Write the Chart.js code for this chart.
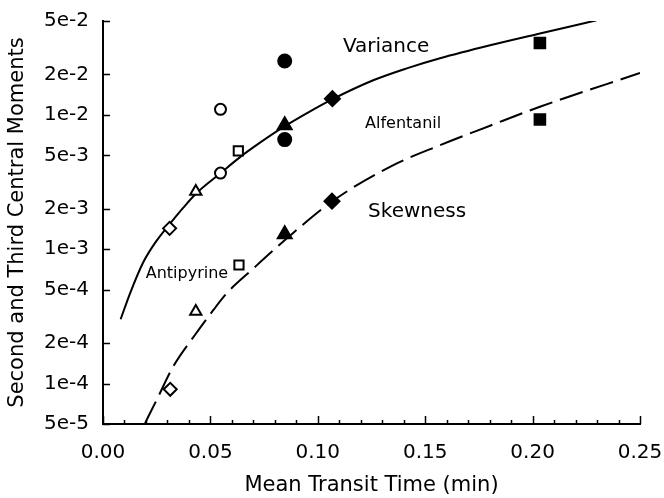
<!DOCTYPE html>
<html lang="en">
<head>
<meta charset="UTF-8">
<title>Second and Third Central Moments</title>
<script src="https://cdn.jsdelivr.net/npm/chart.js"></script>
<style>
  html, body { margin: 0; padding: 0; background: #fff; }
</style>
</head>
<body>
<canvas id="myChart" width="664" height="498"></canvas>
<script>
// axes
const xTicks = [0, 0.05, 0.10, 0.15, 0.20, 0.25];
const xTickLabels = ['0.00', '0.05', '0.10', '0.15', '0.20', '0.25'];
const yTicks = [5e-5, 1e-4, 2e-4, 5e-4, 1e-3, 2e-3, 5e-3, 1e-2, 2e-2, 5e-2];
const yTickLabels = ['5e-5', '1e-4', '2e-4', '5e-4', '1e-3', '2e-3', '5e-3', '1e-2', '2e-2', '5e-2'];

// observed variance (second central moment)
const varX = [0.0310, 0.0432, 0.0547, 0.0547, 0.0630, 0.0846, 0.0846, 0.0846, 0.1068, 0.2034];
const varY = [1.43e-3, 2.69e-3, 3.69e-3, 1.10e-2, 5.40e-3, 8.38e-3, 2.52e-2, 6.55e-3, 1.32e-2, 3.43e-2];
const varMark = ['oD', 'oT', 'oC', 'oC', 'oS', 'fT', 'fC', 'fC', 'fD', 'fS'];

// observed skewness (third central moment)
const skewX = [0.0313, 0.0432, 0.0633, 0.0846, 0.1066, 0.2034];
const skewY = [9.06e-5, 3.44e-4, 7.63e-4, 1.29e-3, 2.28e-3, 9.24e-3];
const skewMark = ['oD', 'oT', 'oS', 'fT', 'fD', 'fS'];

// fitted curves
const varCurveX = [0.0082, 0.0126, 0.0188, 0.0250, 0.0312, 0.0374, 0.0436, 0.0545, 0.0638, 0.0731, 0.0839, 0.0954, 0.1069, 0.1258, 0.1414, 0.1569, 0.1802, 0.2034, 0.2298];
const varCurveY = [3.01e-4, 4.70e-4, 8.03e-4, 1.16e-3, 1.55e-3, 2.04e-3, 2.62e-3, 3.66e-3, 4.85e-3, 6.21e-3, 8.10e-3, 1.04e-2, 1.31e-2, 1.81e-2, 2.22e-2, 2.64e-2, 3.30e-2, 4.04e-2, 5.06e-2];
const skewCurveX = [0.0196, 0.0250, 0.0327, 0.0428, 0.0514, 0.0576, 0.0692, 0.0847, 0.1065, 0.1336, 0.1569, 0.1802, 0.2034, 0.2500];
const skewCurveY = [5.08e-5, 7.57e-5, 1.34e-4, 2.30e-4, 3.53e-4, 4.70e-4, 7.00e-4, 1.17e-3, 2.26e-3, 4.11e-3, 5.95e-3, 8.31e-3, 1.15e-2, 2.05e-2];

// text on the plot
const noteText = ['Variance', 'Alfentanil', 'Skewness', 'Antipyrine'];
const noteX = [0.1117, 0.1220, 0.1234, 0.0199];
const noteY = [3.19e-2, 8.53e-3, 1.89e-3, 6.58e-4];
const noteSize = [20, 16, 20, 16];

const FONT = 'DejaVu Sans';

// marker look per symbol key
const marks = {
    oD: { style: 'rectRot', r: 6.5, fill: '#fff' },
    oT: { style: 'triangle', r: 6.5, fill: '#fff' },
    oC: { style: 'circle', r: 5.5, fill: '#fff' },
    oS: { style: 'rect', r: 6.5, fill: '#fff' },
    fD: { style: 'rectRot', r: 7.5, fill: '#000' },
    fT: { style: 'triangle', r: 8, fill: '#000' },
    fC: { style: 'circle', r: 6.5, fill: '#000' },
    fS: { style: 'rect', r: 7.5, fill: '#000' }
};

function pts(xs, ys) {
    return xs.map((x, i) => ({ x: x, y: ys[i] }));
}

function markerSet(xs, ys, keys) {
    return {
        data: pts(xs, ys),
        showLine: false,
        pointStyle: keys.map(k => marks[k].style),
        pointRadius: keys.map(k => marks[k].r),
        backgroundColor: keys.map(k => marks[k].fill),
        borderColor: '#000',
        borderWidth: 2
    };
}

function curveSet(xs, ys, dash) {
    return {
        data: pts(xs, ys),
        showLine: true,
        pointRadius: 0,
        borderColor: '#000',
        borderWidth: 2,
        borderDash: dash,
        cubicInterpolationMode: 'monotone',
        fill: false
    };
}

// inward tick marks and the text labels inside the plot
const extras = {
    id: 'extras',
    afterDraw(chart) {
        const ctx = chart.ctx;
        const x = chart.scales.x, y = chart.scales.y;
        const area = chart.chartArea;
        ctx.save();
        ctx.strokeStyle = '#000';
        ctx.lineWidth = 1.5;
        ctx.beginPath();
        yTicks.forEach(v => {
            const py = Math.round(y.getPixelForValue(v)) + 0.5;
            ctx.moveTo(area.left, py);
            ctx.lineTo(area.left + 7, py);
        });
        for (let i = 0; i <= 25; i++) {
            const px = Math.round(x.getPixelForValue(i / 100)) + 0.5;
            const len = i % 5 === 0 ? 8 : 4;
            ctx.moveTo(px, area.bottom);
            ctx.lineTo(px, area.bottom - len);
        }
        ctx.stroke();

        ctx.fillStyle = '#000';
        ctx.textAlign = 'left';
        ctx.textBaseline = 'middle';
        noteText.forEach((t, i) => {
            ctx.font = noteSize[i] + 'px "' + FONT + '"';
            ctx.fillText(t, x.getPixelForValue(noteX[i]), y.getPixelForValue(noteY[i]));
        });
        ctx.restore();
    }
};

const ctx = document.getElementById('myChart').getContext('2d');
new Chart(ctx, {
    type: 'scatter',
    data: {
        datasets: [
            markerSet(varX, varY, varMark),
            markerSet(skewX, skewY, skewMark),
            curveSet(varCurveX, varCurveY, []),
            curveSet(skewCurveX, skewCurveY, [24, 8])
        ]
    },
    options: {
        responsive: false,
        animation: false,
        layout: { padding: { left: 0, right: 24, top: 21, bottom: 0 } },
        plugins: {
            legend: { display: false },
            tooltip: { enabled: false }
        },
        scales: {
            x: {
                type: 'linear',
                min: 0,
                max: 0.25,
                afterBuildTicks: s => { s.ticks = xTicks.map(v => ({ value: v })); },
                afterFit: s => { s.height = 74; s.paddingLeft = 0; s.paddingRight = 0; },
                ticks: {
                    callback: (v, i) => xTickLabels[i],
                    font: { family: FONT, size: 20 },
                    color: '#000',
                    padding: 17,
                    maxRotation: 0,
                    autoSkip: false
                },
                grid: { display: false, drawTicks: false },
                border: { display: true, color: '#000', width: 2 },
                title: {
                    display: true,
                    text: 'Mean Transit Time (min)',
                    font: { family: FONT, size: 21 },
                    color: '#000',
                    padding: { top: 0, bottom: 0 }
                }
            },
            y: {
                type: 'logarithmic',
                min: 5e-5,
                max: 5e-2,
                afterBuildTicks: s => { s.ticks = yTicks.map(v => ({ value: v })); },
                afterFit: s => { s.width = 103; s.paddingTop = 0; s.paddingBottom = 0; },
                ticks: {
                    callback: (v, i) => yTickLabels[i],
                    font: { family: FONT, size: 20 },
                    color: '#000',
                    padding: 14,
                    autoSkip: false
                },
                grid: { display: false, drawTicks: false },
                border: { display: true, color: '#000', width: 2 },
                title: {
                    display: true,
                    text: 'Second and Third Central Moments',
                    font: { family: FONT, size: 21 },
                    color: '#000',
                    padding: { top: 5, bottom: 0 }
                }
            }
        }
    },
    plugins: [extras]
});
</script>
</body>
</html>
